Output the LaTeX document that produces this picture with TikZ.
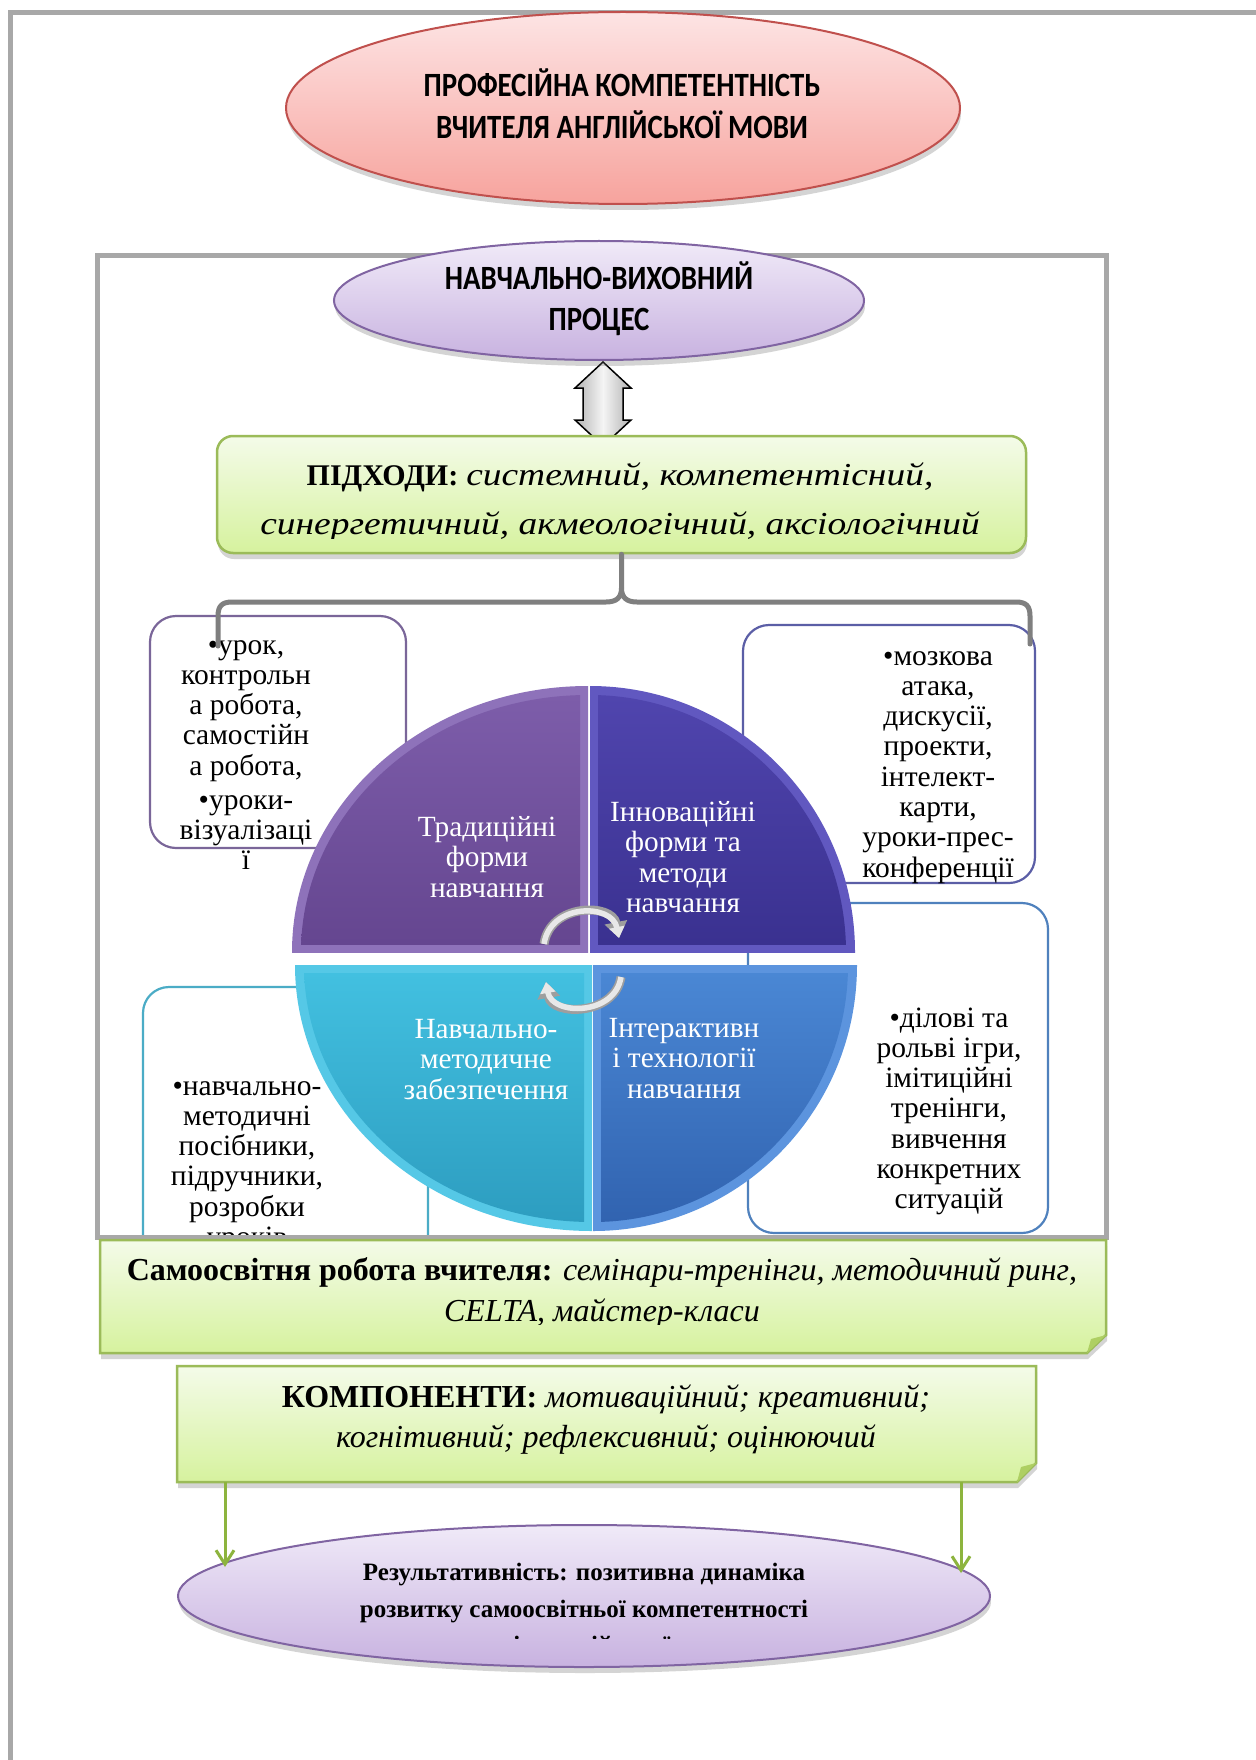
\documentclass[tikz,border=0pt]{standalone}
\usepackage{fontspec}
\setmainfont{Liberation Serif}
\newfontfamily\headfont[FakeStretch=0.85]{Carlito}
\newfontfamily\itwide[FakeStretch=1.17]{Liberation Serif}
\usetikzlibrary{shapes.geometric,shadows,arrows.meta}
\definecolor{frameg}{HTML}{A8A8A8}
\definecolor{redline}{HTML}{C0504D}
\definecolor{redtop}{HTML}{FDE4E4}
\definecolor{redbot}{HTML}{F7A39D}
\definecolor{lavline}{HTML}{8064A2}
\definecolor{lavtop}{HTML}{F0EAF8}
\definecolor{lavbot}{HTML}{C8B2E0}
\definecolor{gline}{HTML}{9BBB59}
\definecolor{gtop}{HTML}{F4FBE9}
\definecolor{gbot}{HTML}{D6F29E}
\definecolor{gfoldc}{HTML}{AECF63}
\definecolor{bracec}{HTML}{7F7F7F}
\definecolor{tlline}{HTML}{7A6699}
\definecolor{trline}{HTML}{5B5EA6}
\definecolor{brline}{HTML}{4F81BD}
\definecolor{blline}{HTML}{4BACC6}
\definecolor{tlbev}{HTML}{8E72BA}
\definecolor{tltop}{HTML}{7D5DAA}
\definecolor{tlbot}{HTML}{654690}
\definecolor{trbev}{HTML}{6158C0}
\definecolor{trtop}{HTML}{5045AE}
\definecolor{trbot}{HTML}{3A3190}
\definecolor{blbev}{HTML}{55C8E6}
\definecolor{bltop}{HTML}{42C0E0}
\definecolor{blbot}{HTML}{2D9DC0}
\definecolor{brbev}{HTML}{5C94DE}
\definecolor{brtop}{HTML}{4A87D4}
\definecolor{brbot}{HTML}{3163B0}
\definecolor{garrowc}{HTML}{8DB43E}
\newcommand{\blk}[1]{\begin{tabular}[t]{@{}c@{}}#1\end{tabular}}
\newcommand{\itw}[1]{{\itwide\itshape #1}}
\tikzset{
  frame/.style={draw=frameg, line width=5},
  softshadow/.style={drop shadow={shadow xshift=1pt, shadow yshift=-6pt, opacity=.28, fill=black!60}},
  ovalnode/.style={ellipse, inner sep=0, line width=2},
  gbox/.style={draw=gline, line width=2.5, top color=gtop, bottom color=gbot, softshadow},
  rbox/.style={rectangle, rounded corners=26, line width=2.2, fill=white, inner sep=0},
  headtxt/.style={inner sep=0, font=\headfont\bfseries\fontsize{34}{42}\selectfont},
  qtxt/.style={inner sep=0, text=white, font=\fontsize{29.3}{30.5}\selectfont},
  btxt/.style={inner sep=0, font=\fontsize{29.5}{30.3}\selectfont},
  brace/.style={draw=bracec, line width=5, line cap=round, line join=round},
  garrow/.style={draw=garrowc, line width=3, -{Straight Barb[length=14pt,width=18pt]}},
}
\begin{document}
\begin{tikzpicture}[x=1pt,y=-1pt]
\useasboundingbox (0,0) rectangle (1255,1760);
\fill[white] (0,0) rectangle (1255,1760);

% outer page frame
\draw[frame] (10,1765) -- (10,13) -- (1265,13);

% top ellipse
\node[ovalnode, draw=redline, top color=redtop, bottom color=redbot, softshadow,
      minimum width=674, minimum height=192] (prof) at (623,108) {};
\node[headtxt, anchor=base] (proft) at (622,97)
  {\blk{ПРОФЕСІЙНА КОМПЕТЕНТНІСТЬ\\ВЧИТЕЛЯ АНГЛІЙСЬКОЇ МОВИ}};

% inner frame
\draw[frame] (97,256) rectangle (1106,1237);

\begin{scope}
\clip (99.5,258.5) rectangle (1103.5,1234.5);
% side boxes
\node[rbox, draw=tlline, minimum width=256, minimum height=232] (tlbox) at (278,732) {};
\node[rbox, draw=trline, minimum width=292, minimum height=258] (trbox) at (889,754) {};
\node[rbox, draw=brline, minimum width=300, minimum height=330] (brbox) at (898,1068) {};
\node[rbox, draw=blline, minimum width=285, minimum height=313] (blbox) at (285.5,1143.5) {};

% pie quadrants
\begin{scope}\clip (588,952) rectangle (250,650); \fill[tlbev] (588,952) ellipse[x radius=296, y radius=266]; \end{scope}
\begin{scope}\clip (580,944) rectangle (250,650); \clip (588,952) ellipse[x radius=287, y radius=257];
  \shade[top color=tltop, bottom color=tlbot] (580,944) rectangle (300,695); \end{scope}
\begin{scope}\clip (590,952) rectangle (900,650); \fill[trbev] (590,952) ellipse[x radius=265, y radius=266]; \end{scope}
\begin{scope}\clip (598,944) rectangle (900,650); \clip (590,952) ellipse[x radius=256, y radius=257];
  \shade[top color=trtop, bottom color=trbot] (598,944) rectangle (846,695); \end{scope}
\begin{scope}\clip (592,965) rectangle (250,1260); \fill[blbev] (592,965) ellipse[x radius=297, y radius=266]; \end{scope}
\begin{scope}\clip (584,973) rectangle (250,1260); \clip (592,965) ellipse[x radius=288, y radius=257];
  \shade[top color=bltop, bottom color=blbot] (584,973) rectangle (300,1222); \end{scope}
\begin{scope}\clip (593,965) rectangle (900,1260); \fill[brbev] (593,965) ellipse[x radius=264, y radius=266]; \end{scope}
\begin{scope}\clip (601,973) rectangle (900,1260); \clip (593,965) ellipse[x radius=255, y radius=257];
  \shade[top color=brtop, bottom color=brbot] (601,973) rectangle (848,1222); \end{scope}

% quadrant texts
\node[qtxt, anchor=base] (q1) at (487,836) {\blk{Традиційні\\форми\\навчання}};
\node[qtxt, anchor=base] (q2) at (683,821) {\blk{Інноваційні\\форми та\\методи\\навчання}};
\node[qtxt, anchor=base] (q3) at (486,1038) {\blk{Навчально-\\методичне\\забезпечення}};
\node[qtxt, anchor=base] (q4) at (684,1037) {\blk{Інтерактивн\\і технології\\навчання}};

% circular arrows
\draw[line width=9, color=black!38, -{Triangle[length=16pt,width=22pt]}]
  (544,944) .. controls (550,903) and (612,903) .. (619,938);
\draw[line width=5.5, color=black!9, -{Triangle[length=11pt,width=15pt]}]
  (544,944) .. controls (550,903) and (612,903) .. (619,938);
\draw[line width=9, color=black!38, -{Triangle[length=16pt,width=22pt]}]
  (621,977) .. controls (615,1016) and (552,1016) .. (546,982);
\draw[line width=5.5, color=black!9, -{Triangle[length=11pt,width=15pt]}]
  (621,977) .. controls (615,1016) and (552,1016) .. (546,982);

% box texts
\node[btxt, anchor=base] (t1) at (246,654)
  {\blk{•урок,\\контрольн\\а робота,\\самостійн\\а робота,\\[3.5pt]•уроки-\\візуалізаці\\ї}};
\node[btxt, anchor=base] (t2) at (938,665)
  {\blk{•мозкова\\атака,\\дискусії,\\проекти,\\інтелект-\\карти,\\уроки-прес-\\конференції}};
\node[btxt, anchor=base] (t3) at (949,1027)
  {\blk{•ділові та\\рольві ігри,\\імітиційні\\тренінги,\\вивчення\\конкретних\\ситуацій}};
\node[btxt, anchor=base] (t4) at (247,1095)
  {\blk{•навчально-\\методичні\\посібники,\\підручники,\\розробки\\уроків}};
\end{scope}

% approaches box
\draw[line width=1.5, left color=black!30, right color=black!30, middle color=black!4]
  (603,362) -- (631,388) -- (623,388) -- (623,420) -- (631,420) -- (603,446)
  -- (575,420) -- (583,420) -- (583,388) -- (575,388) -- cycle;
\node[gbox, rounded corners=16, minimum width=809, minimum height=117, inner sep=0] (pidh) at (621.5,494.5) {};
\begin{scope}
\clip (217,436) rectangle (1026,538);
\node[inner sep=0, anchor=base, font=\fontsize{32}{49}\selectfont] (pidht) at (620,485)
  {\blk{{\fontsize{30}{49}\selectfont\textbf{ПІДХОДИ:}} \itw{системний, компетентісний,}\\\itw{синергетичний, акмеологічний, аксіологічний}}};
\end{scope}

% brace
\coordinate (bleft) at (218,646);
\coordinate (bright) at (1030,644);
\draw[brace] (bleft) -- (218,616) .. controls (218,606) and (222,602) .. (232,602) -- (606,602)
  .. controls (616,602) and (621.5,598) .. (621.5,588) -- (pidh.south);
\draw[brace] (bright) -- (1030,616) .. controls (1030,606) and (1026,602) .. (1016,602) -- (637,602)
  .. controls (627,602) and (621.5,598) .. (621.5,588);

% process ellipse
\node[ovalnode, draw=lavline, top color=lavtop, bottom color=lavbot, softshadow,
      minimum width=530, minimum height=119] (proc) at (599,300.5) {};
\node[headtxt, anchor=base, font=\headfont\bfseries\fontsize{34}{41}\selectfont] (proct) at (599,290)
  {\blk{НАВЧАЛЬНО-ВИХОВНИЙ\\ПРОЦЕС}};

% self-education box
\draw[gbox] (100,1240) -- (1106,1240) -- (1106,1335) -- (1087,1353) -- (100,1353) -- cycle;
\fill[gfoldc] (1106,1335) -- (1087,1353) -- (1091,1339) -- cycle;
\begin{scope}
\clip (100,1240) rectangle (1106,1324);
\node[inner sep=0, anchor=base, font=\fontsize{32}{41}\selectfont] (samot) at (602,1280)
  {\blk{\textbf{Самоосвітня робота вчителя:} \textit{семінари-тренінги, методичний ринг,}\\\textit{CELTA, майстер-класи}}};
\end{scope}

% components box
\draw[gbox] (177,1366) -- (1036,1366) -- (1036,1463) -- (1017,1482) -- (177,1482) -- cycle;
\fill[gfoldc] (1036,1463) -- (1017,1482) -- (1021,1467) -- cycle;
\node[inner sep=0, anchor=base, font=\fontsize{32}{40}\selectfont] (kompt) at (606,1407)
  {\blk{\textbf{КОМПОНЕНТИ:} \textit{мотиваційний; креативний;}\\\textit{когнітивний; рефлексивний; оцінюючий}}};

% result ellipse
\node[ovalnode, draw=lavline, top color=lavtop, bottom color=lavbot, softshadow,
      minimum width=812, minimum height=142] (res) at (584,1596) {};
\begin{scope}
\clip (150,1530) rectangle (1000,1638);
\node[inner sep=0, anchor=base, font=\bfseries\fontsize{25}{37}\selectfont] (rest) at (584,1580)
  {\blk{Результативність: позитивна динаміка\\розвитку самоосвітньої компетентності\\[-1pt]вчителів англійської мови}};
\end{scope}

% arrows to result
\coordinate (ka) at (225,1482);
\coordinate (kb) at (961,1482);
\coordinate (ea) at (225,1567);
\coordinate (eb) at (961,1573);
\draw[garrow] (ka) -- (ea);
\draw[garrow] (kb) -- (eb);
\end{tikzpicture}
\end{document}
